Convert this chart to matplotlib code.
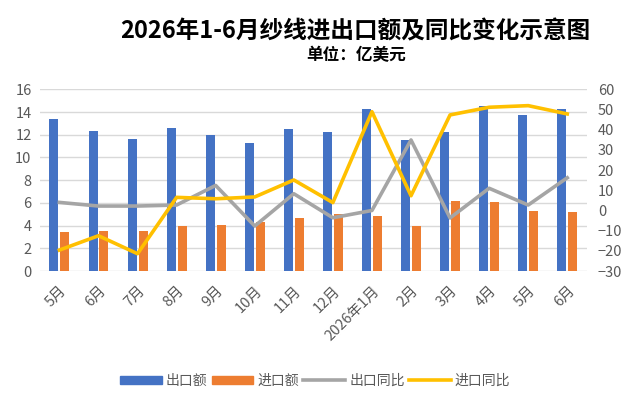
import numpy as np
import matplotlib
matplotlib.use('Agg')
from matplotlib import pyplot as plt
from matplotlib.patches import Patch
from matplotlib.lines import Line2D

plt.rcParams['font.family'] = ['Noto Sans CJK SC', 'DejaVu Sans']

# 月份
months = ['5月', '6月', '7月', '8月', '9月', '10月', '11月', '12月',
          '2026年1月', '2月', '3月', '4月', '5月', '6月']
# 出口额、进口额（亿美元）
export_amt = [13.4, 12.3, 11.6, 12.6, 12.0, 11.3, 12.5, 12.2,
              14.3, 11.5, 12.2, 14.5, 13.7, 14.3]
import_amt = [3.4, 3.5, 3.5, 4.0, 4.05, 4.3, 4.7, 5.0,
              4.85, 4.0, 6.2, 6.1, 5.3, 5.2]
# 同比（%）
export_yoy = [4.0, 2.2, 2.2, 2.7, 12.4, -7.7, 8.3, -3.6,
              0.0, 34.9, -3.7, 11.0, 2.7, 16.2]
import_yoy = [-19.6, -12.5, -21.4, 6.5, 5.8, 6.7, 15.1, 3.9,
              48.9, 7.3, 47.3, 51.1, 51.9, 47.8]

c_exp = '#4472C4'
c_imp = '#ED7D31'
c_eyoy = '#A5A5A5'
c_iyoy = '#FFC000'
txt = '#595959'

fig = plt.figure(figsize=(6.33, 4.04), dpi=100)
ax = fig.add_axes([0.063, 0.329, 0.864, 0.450])
ax2 = ax.twinx()

x = np.arange(len(months))
w = 0.23
ax.bar(x - 0.14, export_amt, width=w, color=c_exp, zorder=2)
ax.bar(x + 0.14, import_amt, width=w, color=c_imp, zorder=2)

ax2.plot(x, export_yoy, color=c_eyoy, lw=2.6, zorder=3)
ax2.plot(x, import_yoy, color=c_iyoy, lw=2.6, zorder=4)

ax.set_xlim(-0.5, len(months) - 0.5)
ax.set_ylim(0, 16)
ax.set_yticks(range(0, 17, 2))
ax2.set_ylim(-30, 60)
ax2.set_yticks(range(-30, 61, 10))

ax.grid(axis='y', color='#D9D9D9', lw=1, zorder=0)
ax.set_axisbelow(True)
for a in (ax, ax2):
    for s in a.spines.values():
        s.set_visible(False)
    a.tick_params(length=0, labelsize=10.5, labelcolor=txt)
ax.tick_params(axis='y', pad=6)
ax2.tick_params(axis='y', pad=8)

ax.set_xticks(x)
ax.set_xticklabels(months, rotation=45, ha='right', rotation_mode='anchor')
ax.tick_params(axis='x', pad=9)

fig.text(0.561, 0.921, '2026年1-6月纱线进出口额及同比变化示意图',
         ha='center', va='center', fontsize=17, fontweight='bold')
fig.text(0.563, 0.864, '单位：亿美元', ha='center', va='center',
         fontsize=12, fontweight='bold')

handles = [Patch(color=c_exp), Patch(color=c_imp),
           Line2D([], [], color=c_eyoy, lw=2.6),
           Line2D([], [], color=c_iyoy, lw=2.6)]
labels = ['出口额', '进口额', '出口同比', '进口同比']
leg = fig.legend(handles, labels, loc='center', bbox_to_anchor=(0.498, 0.057),
                 ncol=4, frameon=False, fontsize=10, handlelength=3.0,
                 handleheight=0.6, columnspacing=0.3, handletextpad=0.3)
for t in leg.get_texts():
    t.set_color(txt)

fig.savefig('out.png', dpi=100)
